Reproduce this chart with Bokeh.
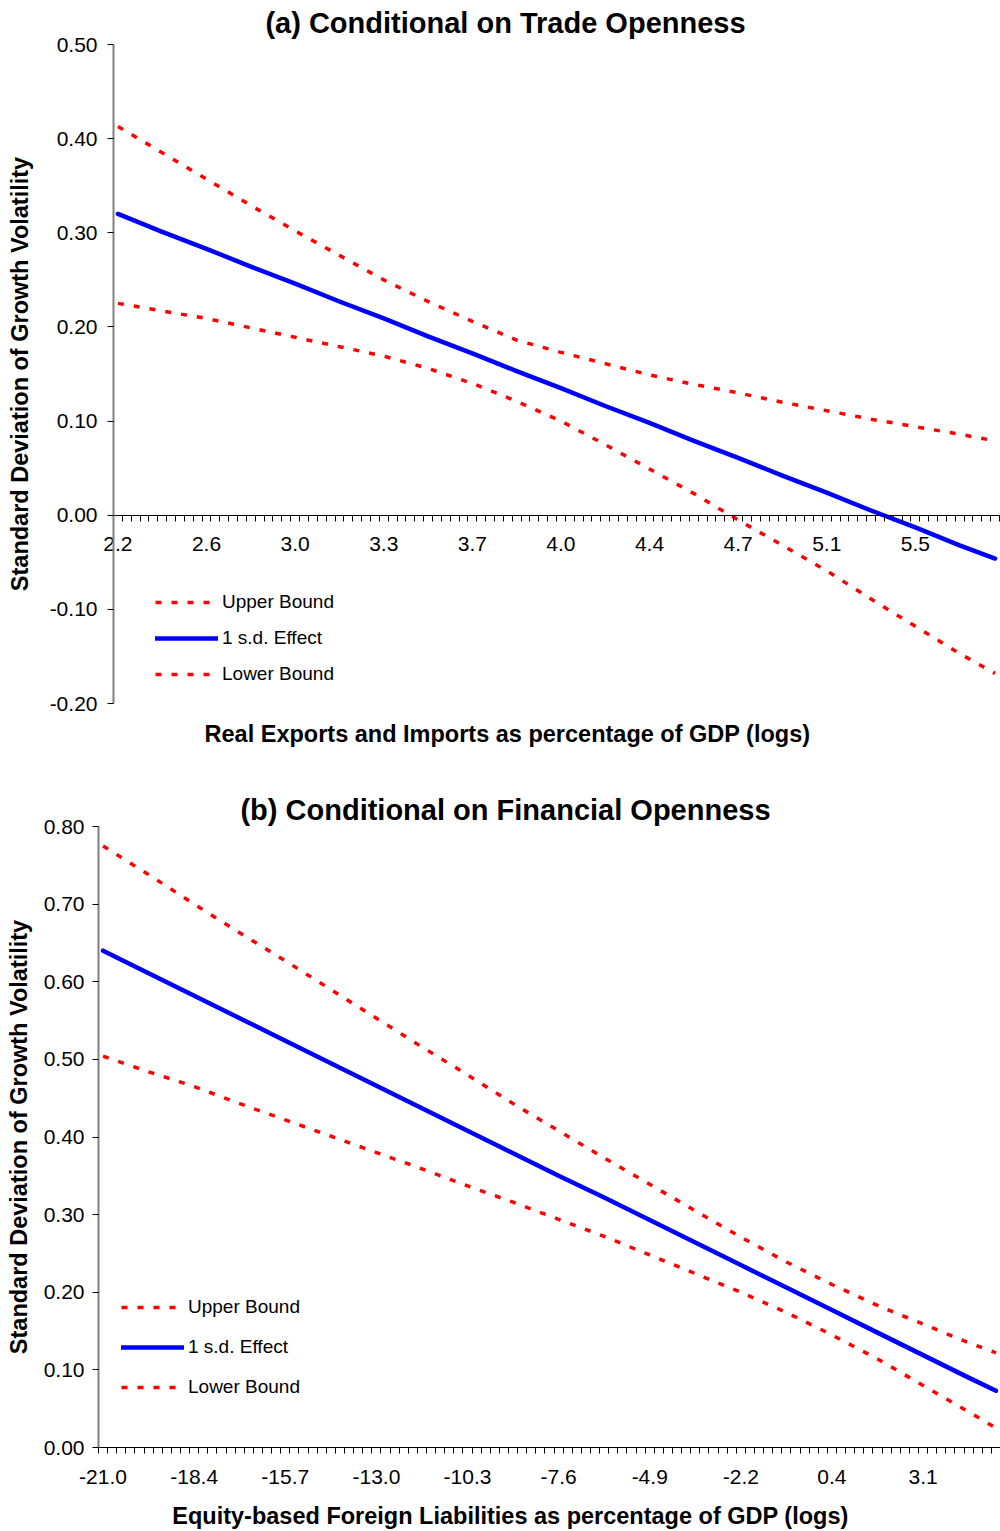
from bokeh.plotting import figure
from bokeh.layouts import column
from bokeh.models import (Range1d, LinearAxis, FixedTicker, NumeralTickFormatter,
                          Label, Legend, LegendItem)
from bokeh.embed import file_html
from bokeh.resources import INLINE

FONT = "Liberation Sans"

# ---------------- data: panel (a) ----------------
a_n_categories = 100
a_tick_labels = ["2.2", "2.6", "3.0", "3.3", "3.7", "4.0", "4.4", "4.7", "5.1", "5.5"]
a_idx = [0, 5, 10, 15, 20, 25, 30, 35, 40, 45, 50, 55, 60, 65, 70, 75, 80, 85, 90, 95, 99]
a_upper = [0.413, 0.385, 0.357, 0.329, 0.302, 0.276, 0.250, 0.227, 0.206, 0.186, 0.173,
           0.161, 0.149, 0.139, 0.130, 0.120, 0.111, 0.102, 0.094, 0.086, 0.079]
a_effect = [0.320, 0.301, 0.283, 0.264, 0.246, 0.227, 0.209, 0.190, 0.172, 0.153, 0.135,
            0.116, 0.098, 0.079, 0.061, 0.042, 0.024, 0.005, -0.013, -0.032, -0.046]
a_lower = [0.225, 0.217, 0.209, 0.199, 0.189, 0.179, 0.169, 0.156, 0.140, 0.121, 0.100,
           0.075, 0.049, 0.023, -0.005, -0.032, -0.059, -0.089, -0.118, -0.147, -0.168]
a_yticks = [-0.2, -0.1, 0.0, 0.1, 0.2, 0.3, 0.4, 0.5]

# ---------------- data: panel (b) ----------------
b_n_categories = 99
b_tick_labels = ["-21.0", "-18.4", "-15.7", "-13.0", "-10.3", "-7.6", "-4.9", "-2.2", "0.4", "3.1"]
b_idx = [0, 5, 10, 15, 20, 25, 30, 35, 40, 45, 50, 55, 60, 65, 70, 75, 80, 85, 90, 95, 98]
b_upper = [0.775, 0.738, 0.700, 0.663, 0.627, 0.590, 0.553, 0.516, 0.480, 0.443, 0.408,
           0.373, 0.339, 0.305, 0.271, 0.239, 0.210, 0.183, 0.159, 0.135, 0.122]
b_effect = [0.640, 0.611, 0.582, 0.553, 0.524, 0.495, 0.466, 0.437, 0.408, 0.379, 0.350,
            0.322, 0.293, 0.264, 0.235, 0.206, 0.177, 0.148, 0.119, 0.090, 0.073]
b_lower = [0.504, 0.484, 0.465, 0.443, 0.422, 0.401, 0.380, 0.359, 0.337, 0.316, 0.294,
           0.272, 0.248, 0.224, 0.200, 0.174, 0.145, 0.114, 0.080, 0.046, 0.025]
b_yticks = [0.0, 0.1, 0.2, 0.3, 0.4, 0.5, 0.6, 0.7, 0.8]

series_names = ["Upper Bound", "1 s.d. Effect", "Lower Bound"]


def make_panel(n_cat, tick_labels, idx, upper, effect, lower, yticks,
               title, xtitle, ytitle, width, height, plot_box,
               title_pos, xtitle_pos, legend_loc, legend_spacing,
               ylab_standoff, ytitle_standoff):
    # plot_box = (left, top, right, bottom) pixel edges of the plotting area
    left, top, right, bottom = plot_box
    ymin, ymax = min(yticks), max(yticks)
    ppx = (right - left) / n_cat
    ppy = (bottom - top) / (ymax - ymin)
    x_range = Range1d(-left / ppx, n_cat + (width - right) / ppx)
    y_range = Range1d(ymin - (height - bottom) / ppy, ymax + top / ppy)

    p = figure(width=width, height=height, output_backend="svg", toolbar_location=None,
               x_axis_type=None, y_axis_type=None, title=None,
               x_range=x_range, y_range=y_range,
               min_border=0, min_border_left=0, min_border_right=0,
               min_border_top=0, min_border_bottom=0)
    p.outline_line_color = None
    p.grid.visible = False
    p.background_fill_color = "white"
    p.border_fill_color = "white"

    # y axis at the category origin
    ya = LinearAxis(ticker=FixedTicker(ticks=yticks), fixed_location=0, bounds=(ymin, ymax),
                    formatter=NumeralTickFormatter(format="0.00"),
                    axis_line_color="#808080", axis_line_width=2,
                    major_tick_line_color="black", major_tick_out=6, major_tick_in=0,
                    minor_tick_line_color=None,
                    major_label_text_font=FONT, major_label_text_font_size="21px",
                    major_label_text_color="black", major_label_standoff=ylab_standoff,
                    axis_label=ytitle, axis_label_text_font=FONT,
                    axis_label_text_font_size="23.5px", axis_label_text_font_style="bold",
                    axis_label_text_color="black", axis_label_standoff=ytitle_standoff)
    p.add_layout(ya, "left")

    # category boundaries (tick marks) axis at y = 0
    bounds = list(range(0, n_cat + 1))
    tick_axis = LinearAxis(ticker=FixedTicker(ticks=bounds), fixed_location=0,
                           bounds=(0, n_cat),
                           major_tick_out=6, major_tick_in=0,
                           major_tick_line_color="black", minor_tick_line_color=None,
                           axis_line_color="black", axis_line_width=1,
                           major_label_overrides={b: "" for b in bounds},
                           major_label_text_font_size="1px")
    p.add_layout(tick_axis, "below")

    # category labels, every 10th category, at category centres
    label_pos = [10 * k + 0.5 for k in range(len(tick_labels))]
    lab_axis = LinearAxis(ticker=FixedTicker(ticks=label_pos), fixed_location=0,
                          major_tick_out=0, major_tick_in=0,
                          major_tick_line_color=None, minor_tick_line_color=None,
                          axis_line_color=None,
                          major_label_overrides={pos: t for pos, t in zip(label_pos, tick_labels)},
                          major_label_text_font=FONT, major_label_text_font_size="21px",
                          major_label_text_color="black", major_label_standoff=22)
    p.add_layout(lab_axis, "below")

    xs = [i + 0.5 for i in idx]
    r_up = p.line(xs, upper, line_color="#FF0000", line_width=3.5, line_dash="6 10")
    r_eff = p.line(xs, effect, line_color="#0000FF", line_width=4.5, line_cap="round",
                   line_join="round")
    r_lo = p.line(xs, lower, line_color="#FF0000", line_width=3.5, line_dash="6 10")

    legend = Legend(items=[LegendItem(label=series_names[0], renderers=[r_up]),
                           LegendItem(label=series_names[1], renderers=[r_eff]),
                           LegendItem(label=series_names[2], renderers=[r_lo])],
                    location=legend_loc, orientation="vertical",
                    glyph_width=63, glyph_height=24, label_height=24,
                    spacing=legend_spacing, padding=0, margin=0, label_standoff=4,
                    border_line_color=None, background_fill_alpha=0,
                    label_text_font=FONT, label_text_font_size="19px",
                    label_text_color="black")
    p.add_layout(legend, "center")

    p.add_layout(Label(x=title_pos[0], y=height - title_pos[1],
                       x_units="screen", y_units="screen",
                       text=title, text_align="center", text_baseline="middle",
                       text_font=FONT, text_font_size="29px", text_font_style="bold",
                       text_color="black"))
    p.add_layout(Label(x=xtitle_pos[0], y=height - xtitle_pos[1],
                       x_units="screen", y_units="screen",
                       text=xtitle, text_align="center", text_baseline="middle",
                       text_font=FONT, text_font_size="23.5px", text_font_style="bold",
                       text_color="black"))
    return p


p1 = make_panel(a_n_categories, a_tick_labels, a_idx, a_upper, a_effect, a_lower, a_yticks,
                "(a) Conditional on Trade Openness",
                "Real Exports and Imports as percentage of GDP (logs)",
                "Standard Deviation of Growth Volatility",
                width=1000, height=770, plot_box=(113, 44, 999, 703),
                title_pos=(505, 22), xtitle_pos=(507, 733),
                legend_loc=(155, 84), legend_spacing=12,
                ylab_standoff=10, ytitle_standoff=14)

p2 = make_panel(b_n_categories, b_tick_labels, b_idx, b_upper, b_effect, b_lower, b_yticks,
                "(b) Conditional on Financial Openness",
                "Equity-based Foreign Liabilities as percentage of GDP (logs)",
                "Standard Deviation of Growth Volatility",
                width=1000, height=761, plot_box=(98, 56, 1000, 677),
                title_pos=(505, 39), xtitle_pos=(510, 745),
                legend_loc=(121, 132), legend_spacing=16,
                ylab_standoff=8, ytitle_standoff=9)

layout = column(p1, p2)
open("out.html", "w").write(file_html(layout, INLINE))
